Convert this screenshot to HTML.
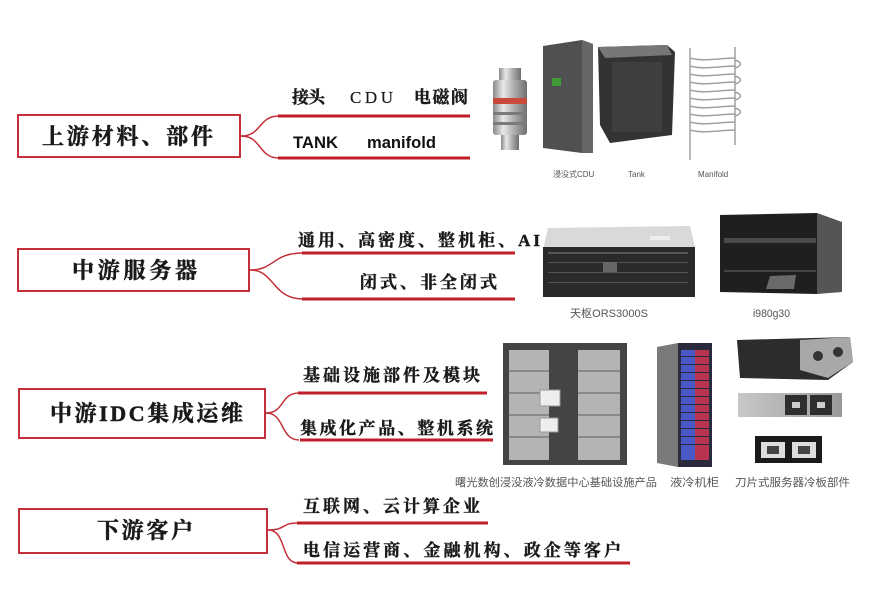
<!DOCTYPE html>
<html><head><meta charset="utf-8"><style>
html,body{margin:0;padding:0;background:#fff;}
svg{display:block;}
.bx{font-family:"Liberation Serif","Noto Serif CJK SC",serif;font-weight:700;font-size:22px;fill:#1a1a1a;stroke:#1a1a1a;stroke-width:0.5;}
.lb{font-family:"Liberation Serif","Noto Serif CJK SC",serif;font-weight:700;font-size:17px;fill:#1a1a1a;stroke:#1a1a1a;stroke-width:0.4;}
.sa{font-family:"Liberation Sans",sans-serif;font-weight:700;font-size:17px;fill:#111;}
.cap{font-family:"Liberation Sans","Noto Sans CJK SC",sans-serif;font-size:11px;fill:#555;}
.cap2{font-family:"Liberation Sans","Noto Sans CJK SC",sans-serif;font-size:8px;fill:#555;}
</style></head><body>
<svg width="880" height="594" viewBox="0 0 880 594" xmlns="http://www.w3.org/2000/svg">
<defs>
<linearGradient id="metal" x1="0" x2="1" y1="0" y2="0">
<stop offset="0" stop-color="#8a8a8a"/><stop offset="0.3" stop-color="#e8e8e8"/><stop offset="0.6" stop-color="#b0b0b0"/><stop offset="1" stop-color="#6e6e6e"/>
</linearGradient>
<linearGradient id="silver" x1="0" x2="1"><stop offset="0" stop-color="#c8c8c8"/><stop offset="1" stop-color="#9a9a9a"/></linearGradient>
</defs>
<rect width="880" height="594" fill="#fff"/>

<!-- ===== Row 1 ===== -->
<rect x="18" y="115" width="222" height="42" fill="none" stroke="#c3303a" stroke-width="2"/>
<text class="bx" x="42" y="144" textLength="171" lengthAdjust="spacing">上游材料、部件</text>
<path d="M241,136 C262,136 258,116 279,116" fill="none" stroke="#c3303a" stroke-width="1.5"/>
<path d="M241,136 C262,136 258,158 279,158" fill="none" stroke="#c3303a" stroke-width="1.5"/>
<rect x="278" y="114.5" width="192" height="3" fill="#c01e28"/>
<rect x="278" y="156.5" width="192" height="3" fill="#c01e28"/>
<text class="lb" x="292" y="103" textLength="33" lengthAdjust="spacing">接头</text>
<text class="lb" x="350" y="103" textLength="43" lengthAdjust="spacing" style="font-weight:400;stroke-width:0.2">CDU</text>
<text class="lb" x="414" y="103" textLength="54" lengthAdjust="spacing">电磁阀</text>
<text class="sa" x="293" y="148" textLength="45" lengthAdjust="spacingAndGlyphs">TANK</text>
<text class="sa" x="367" y="148" textLength="69" lengthAdjust="spacingAndGlyphs">manifold</text>

<!-- connector -->
<rect x="499" y="68" width="22" height="12" fill="url(#metal)"/>
<rect x="493" y="80" width="34" height="55" rx="3" fill="url(#metal)"/>
<rect x="493" y="98" width="34" height="6" fill="#c84a3a"/>
<rect x="493" y="112" width="34" height="3" fill="#7a7a7a"/>
<rect x="493" y="122" width="34" height="3" fill="#7a7a7a"/>
<rect x="501" y="135" width="18" height="15" fill="url(#metal)"/>
<!-- CDU -->
<polygon points="543,46 582,40 593,44 593,153 582,153 543,148" fill="#505050"/>
<polygon points="582,40 593,44 593,153 582,153" fill="#666"/>
<rect x="552" y="78" width="9" height="8" fill="#3f9a3a"/>
<text class="cap2" x="553" y="177">浸没式CDU</text>
<!-- Tank -->
<polygon points="598,47 667,45 675,52 672,135 610,143 600,125" fill="#333"/>
<polygon points="598,47 667,45 672,55 605,58" fill="#777"/>
<rect x="612" y="62" width="50" height="70" fill="#3e3e3e"/>
<text class="cap2" x="628" y="177">Tank</text>
<!-- Manifold -->
<g stroke="#a0a0a0" stroke-width="1.5" fill="none">
<line x1="690" y1="48" x2="690" y2="160"/>
<line x1="735" y1="47" x2="735" y2="145"/>
<path d="M690,58 C705,62 720,58 735,58"/><path d="M690,66 C705,70 720,66 735,66"/>
<path d="M690,74 C705,78 720,74 735,74"/><path d="M690,82 C705,86 720,82 735,82"/>
<path d="M690,90 C705,94 720,90 735,90"/><path d="M690,98 C705,102 720,98 735,98"/>
<path d="M690,106 C705,110 720,106 735,106"/><path d="M690,114 C705,118 720,114 735,114"/>
<path d="M690,122 C705,126 720,122 735,122"/><path d="M690,130 C705,134 720,130 735,130"/>
<path d="M735,60 C742,62 742,66 735,68"/><path d="M735,76 C742,78 742,82 735,84"/>
<path d="M735,92 C742,94 742,98 735,100"/><path d="M735,108 C742,110 742,114 735,116"/>
</g>
<text class="cap2" x="698" y="177">Manifold</text>

<!-- ===== Row 2 ===== -->
<rect x="18" y="249" width="231" height="42" fill="none" stroke="#c3303a" stroke-width="2"/>
<text class="bx" x="72" y="278" textLength="125" lengthAdjust="spacing">中游服务器</text>
<path d="M250,270 C275,270 272,253 303,253" fill="none" stroke="#c3303a" stroke-width="1.5"/>
<path d="M250,270 C275,270 272,299 303,299" fill="none" stroke="#c3303a" stroke-width="1.5"/>
<rect x="302" y="251.5" width="213" height="3" fill="#c01e28"/>
<rect x="302" y="297.5" width="213" height="3" fill="#c01e28"/>
<text class="lb" x="298" y="246" textLength="242" lengthAdjust="spacing">通用、高密度、整机柜、AI</text>
<text class="lb" x="360" y="288" textLength="137" lengthAdjust="spacing">闭式、非全闭式</text>

<!-- server 1 -->
<polygon points="548,228 690,226 695,247 543,249" fill="#d9d9d9"/>
<rect x="543" y="247" width="152" height="50" fill="#2a2a2a"/>
<g fill="#555">
<rect x="548" y="252" width="140" height="2"/><rect x="548" y="262" width="140" height="1"/>
<rect x="548" y="272" width="140" height="1"/><rect x="548" y="282" width="140" height="1"/>
</g>
<rect x="603" y="262" width="14" height="10" fill="#666"/>
<rect x="650" y="236" width="20" height="4" fill="#eee"/>
<text class="cap" x="570" y="317" textLength="78" lengthAdjust="spacingAndGlyphs">天枢ORS3000S</text>
<!-- server 2 -->
<polygon points="720,215 817,213 817,294 720,292" fill="#1f1f1f"/>
<polygon points="817,213 842,222 842,292 817,294" fill="#555"/>
<rect x="724" y="238" width="92" height="5" fill="#4a4a4a"/>
<rect x="724" y="270" width="92" height="2" fill="#444"/>
<polygon points="770,276 796,275 794,289 766,289" fill="#6a6a6a"/>
<text class="cap" x="753" y="317" textLength="37" lengthAdjust="spacingAndGlyphs">i980g30</text>

<!-- ===== Row 3 ===== -->
<rect x="19" y="389" width="246" height="49" fill="none" stroke="#c3303a" stroke-width="2"/>
<text class="bx" x="50" y="421" textLength="193" lengthAdjust="spacing">中游IDC集成运维</text>
<path d="M266,413 C285,413 280,393 299,393" fill="none" stroke="#c3303a" stroke-width="1.5"/>
<path d="M266,413 C285,413 280,440 299,440" fill="none" stroke="#c3303a" stroke-width="1.5"/>
<rect x="298" y="391.5" width="189" height="3" fill="#c01e28"/>
<rect x="300" y="438.5" width="193" height="3" fill="#c01e28"/>
<text class="lb" x="303" y="381" textLength="177" lengthAdjust="spacing">基础设施部件及模块</text>
<text class="lb" x="300" y="434" textLength="193" lengthAdjust="spacing">集成化产品、整机系统</text>

<!-- IDC cabinet -->
<rect x="503" y="343" width="124" height="122" fill="#444"/>
<rect x="509" y="350" width="40" height="110" fill="#b4b4b4"/>
<rect x="578" y="350" width="42" height="110" fill="#b4b4b4"/>
<g fill="#8a8a8a">
<rect x="509" y="370" width="40" height="2"/><rect x="509" y="392" width="40" height="2"/>
<rect x="509" y="414" width="40" height="2"/><rect x="509" y="436" width="40" height="2"/>
<rect x="578" y="370" width="42" height="2"/><rect x="578" y="392" width="42" height="2"/>
<rect x="578" y="414" width="42" height="2"/><rect x="578" y="436" width="42" height="2"/>
</g>
<rect x="540" y="390" width="20" height="16" fill="#eee" stroke="#999"/>
<rect x="540" y="418" width="18" height="14" fill="#eee" stroke="#999"/>
<text class="cap" x="455" y="486" textLength="202" lengthAdjust="spacingAndGlyphs">曙光数创浸没液冷数据中心基础设施产品</text>
<!-- liquid cabinet -->
<polygon points="657,347 678,343 678,467 657,463" fill="#7a7a7a"/>
<rect x="678" y="343" width="34" height="124" fill="#2a2a3c"/>
<g>
<rect x="681" y="350" width="14" height="110" fill="#4b58c8"/>
<rect x="695" y="350" width="14" height="110" fill="#b8344e"/>
</g>
<g fill="#2a2a3c">
<rect x="681" y="356" width="28" height="1"/><rect x="681" y="364" width="28" height="1"/>
<rect x="681" y="372" width="28" height="1"/><rect x="681" y="380" width="28" height="1"/>
<rect x="681" y="388" width="28" height="1"/><rect x="681" y="396" width="28" height="1"/>
<rect x="681" y="404" width="28" height="1"/><rect x="681" y="412" width="28" height="1"/>
<rect x="681" y="420" width="28" height="1"/><rect x="681" y="428" width="28" height="1"/>
<rect x="681" y="436" width="28" height="1"/><rect x="681" y="444" width="28" height="1"/>
</g>
<text class="cap" x="670" y="486" textLength="49" lengthAdjust="spacingAndGlyphs">液冷机柜</text>
<!-- blade parts -->
<polygon points="737,340 850,337 853,362 828,380 740,378" fill="#2c2c2c"/>
<polygon points="800,340 850,337 853,362 828,378 800,370" fill="#a8a8a8"/>
<circle cx="818" cy="356" r="5" fill="#333"/><circle cx="838" cy="352" r="5" fill="#333"/>
<rect x="738" y="393" width="104" height="24" fill="url(#silver)"/>
<rect x="785" y="395" width="22" height="20" fill="#2e2e2e"/>
<rect x="810" y="395" width="22" height="20" fill="#2e2e2e"/>
<rect x="792" y="402" width="8" height="6" fill="#ccc"/><rect x="817" y="402" width="8" height="6" fill="#ccc"/>
<rect x="755" y="436" width="67" height="27" fill="#1a1a1a"/>
<rect x="761" y="442" width="24" height="16" fill="#ddd"/>
<rect x="792" y="442" width="24" height="16" fill="#ddd"/>
<rect x="767" y="446" width="12" height="8" fill="#444"/><rect x="798" y="446" width="12" height="8" fill="#444"/>
<text class="cap" x="735" y="486" textLength="115" lengthAdjust="spacingAndGlyphs">刀片式服务器冷板部件</text>

<!-- ===== Row 4 ===== -->
<rect x="19" y="509" width="248" height="44" fill="none" stroke="#c3303a" stroke-width="2"/>
<text class="bx" x="97" y="538" textLength="96" lengthAdjust="spacing">下游客户</text>
<path d="M268,530 C287,530 280,523 298,523" fill="none" stroke="#c3303a" stroke-width="1.5"/>
<path d="M268,530 C287,530 280,563 298,563" fill="none" stroke="#c3303a" stroke-width="1.5"/>
<rect x="297" y="521.5" width="191" height="3" fill="#c01e28"/>
<rect x="297" y="561.5" width="333" height="3" fill="#c01e28"/>
<text class="lb" x="303" y="512" textLength="177" lengthAdjust="spacing">互联网、云计算企业</text>
<text class="lb" x="303" y="556" textLength="318" lengthAdjust="spacing">电信运营商、金融机构、政企等客户</text>
</svg>
</body></html>
